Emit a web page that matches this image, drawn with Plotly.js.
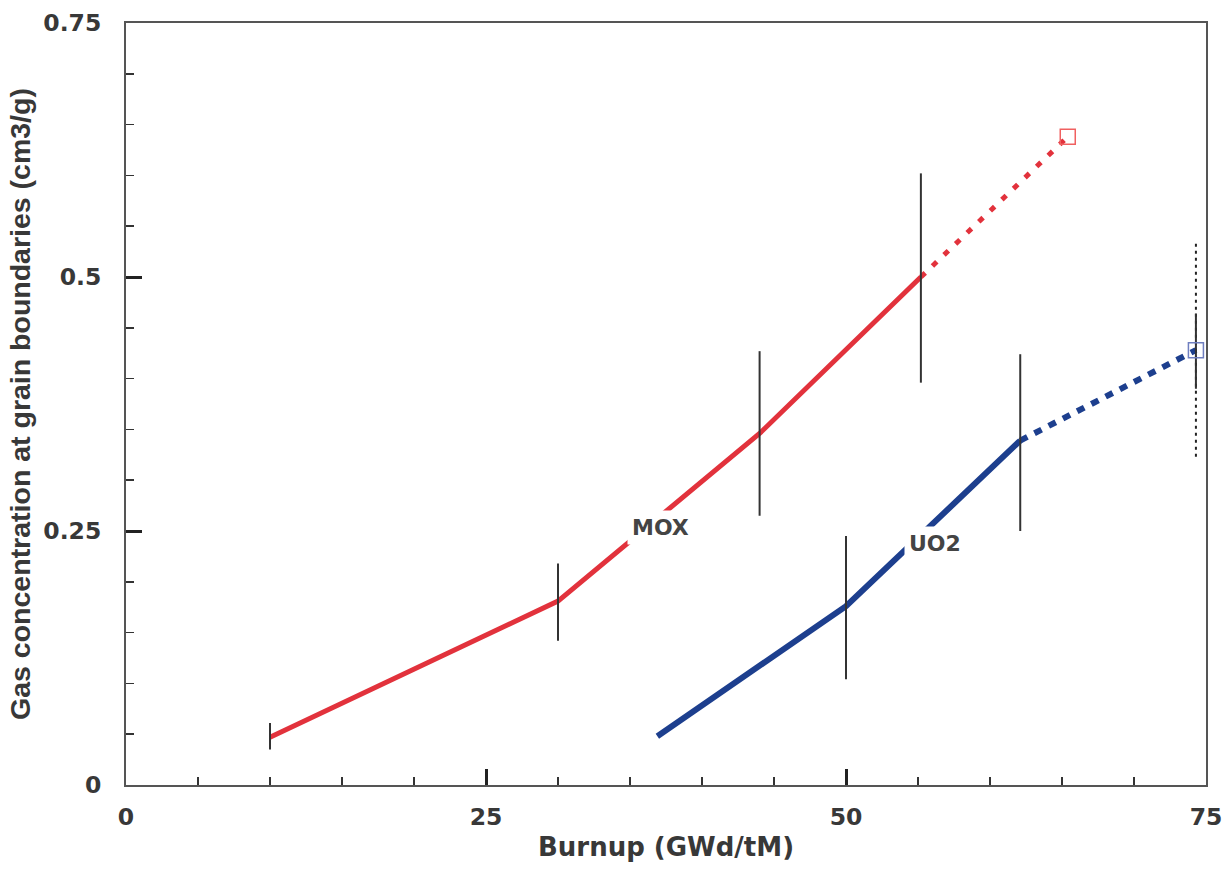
<!DOCTYPE html>
<html>
<head>
<meta charset="utf-8">
<script src="https://cdn.plot.ly/plotly-3.0.1.min.js"></script>
<style>html,body{margin:0;padding:0;background:#fff;}#chart{width:1226px;height:870px;}</style>
</head>
<body>
<div id="chart"></div>
<script>
// MOX series
const moxX = [10, 30, 44, 55.2];
const moxY = [0.047, 0.181, 0.346, 0.5];
const moxExtX = [55.2, 65.4];
const moxExtY = [0.5, 0.638];
// UO2 series
const uo2X = [36.9, 50, 62.1];
const uo2Y = [0.048, 0.176, 0.339];
const uo2ExtX = [62.1, 74.3];
const uo2ExtY = [0.339, 0.428];
// error bars (solid)
const errX = [10, 30, 44, 55.2, 50, 62.1, 74.3];
const errLow = [0.035, 0.142, 0.265, 0.396, 0.104, 0.25, 0.39];
const errHigh = [0.061, 0.218, 0.427, 0.602, 0.245, 0.424, 0.464];
// error bar (dotted, extrapolated)
const errDotX = [74.3];
const errDotLow = [0.323];
const errDotHigh = [0.536];
// labels
const labelText = ["MOX", "UO2"];
const labelX = [37.1, 56.2];
const labelY = [0.253, 0.238];
const xTicks = [0, 25, 50, 75];
const xTickText = ["0", "25", "50", "75"];
const yTicks = [0, 0.25, 0.5, 0.75];
const yTickText = ["0", "0.25", "0.5", "0.75"];

function segs(xs, lo, hi) {
  const x = [], y = [];
  for (let i = 0; i < xs.length; i++) {
    x.push(xs[i], xs[i], null);
    y.push(lo[i], hi[i], null);
  }
  return {x, y};
}
const eb = segs(errX, errLow, errHigh);
const ebd = segs(errDotX, errDotLow, errDotHigh);

const red = '#e2323c';
const blue = '#1d3f8e';

const traces = [
  {x: moxX, y: moxY, mode: 'lines', line: {color: red, width: 5}},
  {x: moxExtX, y: moxExtY, mode: 'lines', line: {color: red, width: 5, dash: '6px,10px'}},
  {x: [moxExtX[1]], y: [moxExtY[1]], mode: 'markers', marker: {symbol: 'square-open', size: 15, color: '#f06060', line: {width: 1.5}}},
  {x: uo2X, y: uo2Y, mode: 'lines', line: {color: blue, width: 6}},
  {x: uo2ExtX, y: uo2ExtY, mode: 'lines', line: {color: blue, width: 6, dash: '8px,8px'}},
  {x: ebd.x, y: ebd.y, mode: 'lines', line: {color: '#222', width: 2, dash: '3px,4px'}},
  {x: eb.x, y: eb.y, mode: 'lines', line: {color: '#333', width: 2}},
  {x: [uo2ExtX[1]], y: [uo2ExtY[1]], mode: 'markers', marker: {symbol: 'square-open', size: 15, color: '#6f7fc0', line: {width: 1.5}}}
];

const tickFont = {family: 'DejaVu Sans, sans-serif', size: 23.5, color: '#383838', weight: 'bold'};

const layout = {
  width: 1226, height: 870,
  margin: {l: 126, r: 20, t: 23, b: 85},
  showlegend: false,
  paper_bgcolor: '#fff', plot_bgcolor: '#fff',
  xaxis: {
    range: [0, 75], tickvals: xTicks, ticktext: xTickText,
    ticks: 'inside', ticklen: 16, tickwidth: 3, tickcolor: '#222',
    minor: {dtick: 5, ticks: 'inside', ticklen: 8, tickwidth: 1.5, tickcolor: '#333'},
    showline: true, linecolor: '#555', linewidth: 2, mirror: true,
    showgrid: false, zeroline: false,
    tickfont: tickFont, ticklabelstandoff: 10,
    title: {text: 'Burnup (GWd/tM)', font: {family: 'DejaVu Sans, sans-serif', size: 26, color: '#383838', weight: 'bold'}, standoff: 8}
  },
  yaxis: {
    range: [0, 0.75], tickvals: yTicks, ticktext: yTickText,
    ticks: 'inside', ticklen: 16, tickwidth: 3, tickcolor: '#222',
    minor: {dtick: 0.05, ticks: 'inside', ticklen: 8, tickwidth: 1.5, tickcolor: '#333'},
    showline: true, linecolor: '#555', linewidth: 2, mirror: true,
    showgrid: false, zeroline: false,
    tickfont: tickFont, ticklabelstandoff: 18,
    title: {text: 'Gas concentration at grain boundaries (cm3/g)', font: {family: 'Liberation Sans, Arial, sans-serif', size: 28.5, color: '#383838', weight: 'bold'}, standoff: 4}
  },
  annotations: labelText.map((t, i) => ({
    x: labelX[i], y: labelY[i], xref: 'x', yref: 'y', text: t, showarrow: false,
    font: {family: 'DejaVu Sans, sans-serif', size: 22, color: '#444', weight: 'bold'},
    bgcolor: '#fff', borderpad: 4
  }))
};

Plotly.newPlot('chart', traces, layout, {displayModeBar: false, staticPlot: true});
</script>
</body>
</html>
